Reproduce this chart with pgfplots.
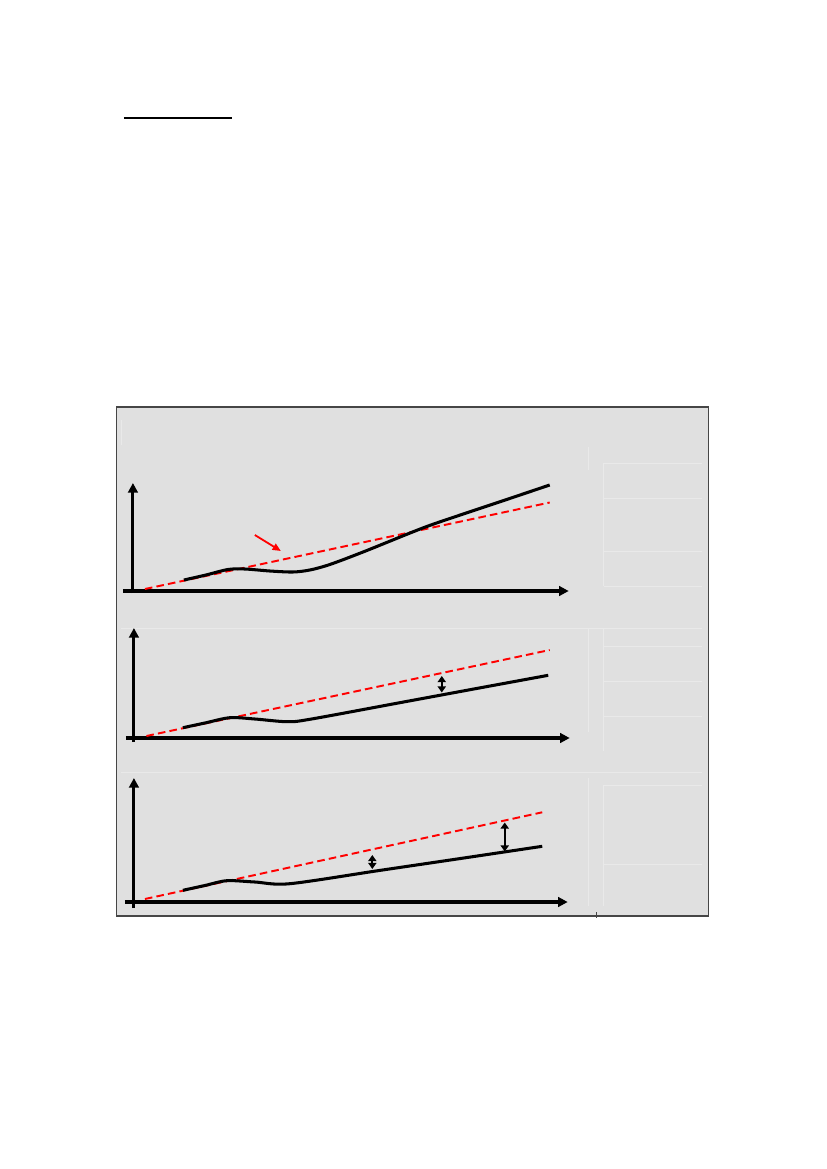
\documentclass[border=0pt]{standalone}
\usepackage{pgfplots}
\pgfplotsset{compat=1.18}
\usetikzlibrary{arrows.meta}

\definecolor{panelgray}{RGB}{224,224,224}
\definecolor{faint}{RGB}{233,233,233}
\definecolor{boxedge}{RGB}{70,70,70}

\begin{document}
\begin{tikzpicture}
\useasboundingbox (0,0) rectangle (210mm,297mm);
\begin{axis}[
  at={(0,0)}, anchor=south west,
  scale only axis,
  width=210mm, height=297mm,
  xmin=0, xmax=827, ymin=0, ymax=1169,
  y dir=reverse,
  hide axis,
  clip=false,
]
% page header rule
\draw[line width=1.5pt] (axis cs:124,118) -- (axis cs:232,118);

% grey frame
\draw[fill=panelgray, draw=boxedge, line width=0.8pt]
  (axis cs:117,407) rectangle (axis cs:709,916);
\draw[boxedge, line width=0.6pt] (axis cs:597,912) -- (axis cs:597,918);

% faint lines of the original
\draw[faint, line width=0.6pt] (axis cs:121,420) -- (axis cs:121,445);
\draw[faint, line width=0.6pt] (axis cs:589,447) -- (axis cs:589,470);
\draw[faint, line width=0.6pt] (axis cs:604,463) -- (axis cs:604,586);
\draw[faint, line width=0.6pt] (axis cs:604,463) -- (axis cs:702,463);
\draw[faint, line width=0.6pt] (axis cs:604,498) -- (axis cs:702,498);
\draw[faint, line width=0.6pt] (axis cs:604,551) -- (axis cs:702,551);
\draw[faint, line width=0.6pt] (axis cs:604,586) -- (axis cs:702,586);
\draw[faint, line width=0.6pt] (axis cs:121,628) -- (axis cs:702,628);
\draw[faint, line width=0.6pt] (axis cs:589,628) -- (axis cs:589,732);
\draw[faint, line width=0.6pt] (axis cs:604,628) -- (axis cs:604,751);
\draw[faint, line width=0.6pt] (axis cs:604,646) -- (axis cs:702,646);
\draw[faint, line width=0.6pt] (axis cs:604,681) -- (axis cs:702,681);
\draw[faint, line width=0.6pt] (axis cs:604,716) -- (axis cs:702,716);
\draw[faint, line width=0.6pt] (axis cs:121,772) -- (axis cs:702,772);
\draw[faint, line width=0.6pt] (axis cs:589,778) -- (axis cs:589,906);
\draw[faint, line width=0.6pt] (axis cs:604,785) -- (axis cs:604,906);
\draw[faint, line width=0.6pt] (axis cs:604,785) -- (axis cs:702,785);
\draw[faint, line width=0.6pt] (axis cs:604,864) -- (axis cs:702,864);

% axes of the three panels
\draw[line width=2.2pt, -{Triangle[length=7pt,width=7pt]}] (axis cs:123,591) -- (axis cs:569,591);
\draw[line width=2.2pt, -{Triangle[length=7pt,width=7pt]}] (axis cs:133,593) -- (axis cs:133,483);
\draw[line width=2.2pt, -{Triangle[length=7pt,width=7pt]}] (axis cs:126,738) -- (axis cs:570,738);
\draw[line width=2.2pt, -{Triangle[length=7pt,width=7pt]}] (axis cs:134,742) -- (axis cs:134,628);
\draw[line width=2.2pt, -{Triangle[length=7pt,width=7pt]}] (axis cs:125,902) -- (axis cs:568,902);
\draw[line width=2.2pt, -{Triangle[length=7pt,width=7pt]}] (axis cs:134,908) -- (axis cs:134,778);

% panel 1
\addplot[red, line width=1.4pt, dash pattern=on 5.5pt off 3pt] coordinates {(145,589) (550,502.5)};
\addplot[black, line width=2.2pt, smooth, tension=0.5] coordinates {
  (184,580) (206,575) (228,569.5) (245,569) (270,571) (293,572)
  (310,570) (330,564.5) (364,551.7) (423,528) (462,514.5) (501,501.5) (550,485)};
\draw[red, line width=1.3pt, -{Triangle[length=6pt,width=5pt]}] (axis cs:255,535) -- (axis cs:281,551);

% panel 2
\addplot[red, line width=1.4pt, dash pattern=on 5.5pt off 3pt] coordinates {(146.5,736) (550,650)};
\addplot[black, line width=2.2pt, smooth, tension=0.5] coordinates {
  (183,727.7) (205,723) (230,717.7) (255,719) (287,721.7) (310,719.3)
  (400,702.7) (480,687.9) (548.5,675.3)};
\draw[black, line width=1.2pt, {Triangle[length=4.5pt,width=6pt]}-{Triangle[length=4.5pt,width=6pt]}]
  (axis cs:442,676) -- (axis cs:442,692.5);

% panel 3
\addplot[red, line width=1.4pt, dash pattern=on 5.5pt off 3pt] coordinates {(145,899) (542.5,812.3)};
\addplot[black, line width=2.2pt, smooth, tension=0.5] coordinates {
  (183,890.3) (205,885.5) (227,880.7) (255,882) (290,883.7)
  (380,870.4) (460,858.6) (542.5,846.3)};
\draw[black, line width=1.2pt, {Triangle[length=4.5pt,width=6pt]}-{Triangle[length=4.5pt,width=6pt]}]
  (axis cs:372.5,855) -- (axis cs:372.5,869);
\draw[black, line width=1.2pt, {Triangle[length=4.5pt,width=6pt]}-{Triangle[length=4.5pt,width=6pt]}]
  (axis cs:505,822.5) -- (axis cs:505,851.5);
\end{axis}
\end{tikzpicture}
\end{document}
